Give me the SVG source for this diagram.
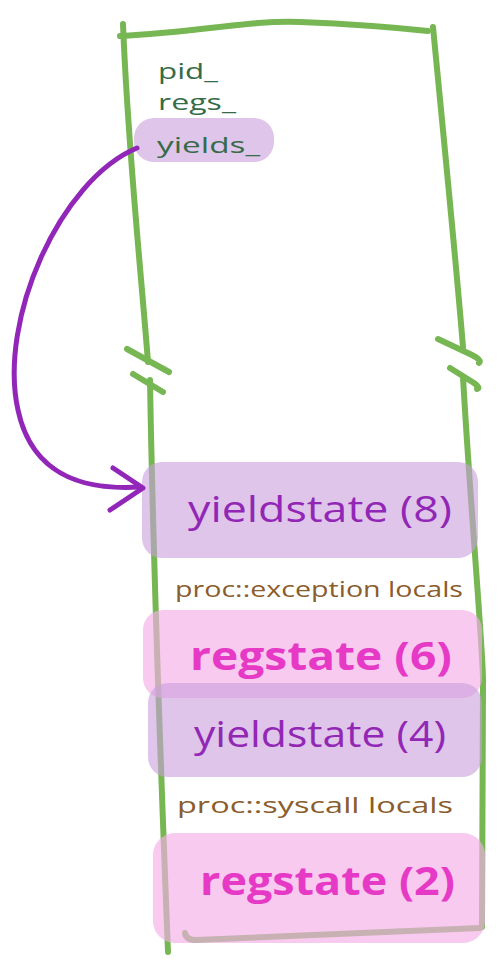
<svg xmlns="http://www.w3.org/2000/svg" width="498" height="966" viewBox="0 0 498 966">
<style>
.frame{fill:none;stroke:#77b753;stroke-width:6;stroke-linecap:round;stroke-linejoin:round}
.field{font-family:"Open Sans","DejaVu Sans",sans-serif;font-size:22px;fill:#356b47}
.ys{fill:#c99fdc;fill-opacity:0.6}
.rs{fill:#f4aee6;fill-opacity:0.65}
.ystxt{font-family:"Open Sans","DejaVu Sans",sans-serif;font-size:36px;fill:#9227b5}
.rstxt{font-family:"Open Sans","DejaVu Sans",sans-serif;font-size:40px;font-weight:bold;fill:#e63ac6}
.loc{font-family:"Open Sans","DejaVu Sans",sans-serif;font-size:22px;fill:#8b5c2c}
.conn{fill:none;stroke:#9126b8;stroke-width:5;stroke-linecap:round;stroke-linejoin:round}
</style>
<rect width="498" height="966" fill="#ffffff"/>
<g id="frame" class="frame">
<path d="M120 36 C 200 32, 250 20, 300 22 C 350 24, 400 28, 428 31"/>
<path d="M123 24 C 128 150, 140 260, 148 362"/>
<path d="M150 380 C 152 500, 158 700, 168 952"/>
<path d="M433 27 C 440 100, 455 250, 463 347"/>
<path d="M463 377 C 470 500, 483 650, 483 680 L 482 927"/>
<path d="M185 933 Q 186 940 196 940 L 480 928"/>
<path d="M127 349 L 169 372"/>
<path d="M133 374 L 163 392"/>
<path d="M438 339 L 472 355 Q 482 360 479 363"/>
<path d="M450 368 L 474 383 Q 481 388 477 389"/>
</g>
<g id="field-pid"><text class="field" x="158" y="79" textLength="60" lengthAdjust="spacingAndGlyphs">pid_</text></g>
<g id="field-regs"><text class="field" x="158" y="110" textLength="78" lengthAdjust="spacingAndGlyphs">regs_</text></g>
<g id="field-yields">
<rect class="ys" x="134" y="118" width="140" height="44" rx="20"/>
<text class="field" x="157" y="153" textLength="103" lengthAdjust="spacingAndGlyphs">yields_</text>
</g>
<g id="yieldstate8">
<rect class="ys" x="142" y="462" width="336" height="96" rx="20"/>
<text class="ystxt" x="188" y="522" textLength="264" lengthAdjust="spacingAndGlyphs">yieldstate (8)</text>
</g>
<g id="exception-locals"><text class="loc" x="175" y="597" textLength="288" lengthAdjust="spacingAndGlyphs">proc::exception locals</text></g>
<g id="regstate6">
<rect class="rs" x="143" y="610" width="339" height="88" rx="20"/>
<text class="rstxt" x="190" y="670" textLength="262" lengthAdjust="spacingAndGlyphs">regstate (6)</text>
</g>
<g id="yieldstate4">
<rect class="ys" x="148" y="683" width="334" height="94" rx="20"/>
<text class="ystxt" x="194" y="747" textLength="252" lengthAdjust="spacingAndGlyphs">yieldstate (4)</text>
</g>
<g id="syscall-locals"><text class="loc" x="177" y="813" font-size="24" textLength="276" lengthAdjust="spacingAndGlyphs">proc::syscall locals</text></g>
<g id="regstate2">
<rect class="rs" x="153" y="833" width="332" height="110" rx="22"/>
<text class="rstxt" x="200" y="895" font-size="44" textLength="255" lengthAdjust="spacingAndGlyphs">regstate (2)</text>
</g>
<g id="connectors">
<path class="conn" d="M137 148 C 60 180, -2 320, 18 410 C 33 480, 90 490, 140 487"/>
<path class="conn" d="M113 468 L 143 488 L 110 510"/>
</g>
</svg>
